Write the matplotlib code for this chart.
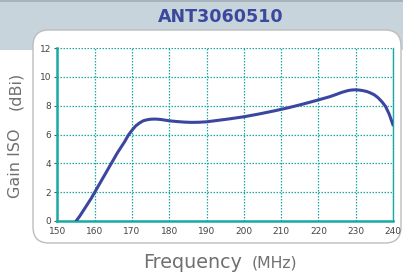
import matplotlib
matplotlib.use('Agg')
import matplotlib.pyplot as plt
from matplotlib.patches import FancyBboxPatch, Rectangle

plt.rcParams['font.family'] = ['DejaVu Sans']

# data
freq = [155, 156, 157, 158, 159, 160, 161, 162, 163, 164, 165, 166, 167, 168, 169,
        170, 171, 172, 173, 174, 175, 176, 177, 178, 179, 180, 182, 184, 186, 188,
        190, 193, 196, 200, 204, 208, 212, 216, 220, 223, 225, 226, 227, 228, 229,
        230, 231, 232, 233, 234, 235, 236, 237, 238, 239, 240]
gain = [0.0, 0.35, 0.75, 1.15, 1.55, 2.0, 2.45, 2.9, 3.35, 3.8, 4.25, 4.7, 5.1, 5.5, 5.95,
        6.3, 6.6, 6.8, 6.95, 7.02, 7.06, 7.07, 7.06, 7.03, 6.99, 6.95, 6.9, 6.86, 6.84, 6.85,
        6.88, 6.98, 7.08, 7.23, 7.42, 7.63, 7.86, 8.12, 8.4, 8.62, 8.8, 8.9, 8.98, 9.05, 9.09,
        9.1, 9.08, 9.04, 8.98, 8.88, 8.75, 8.55, 8.28, 7.95, 7.4, 6.66]
x_ticks = [150, 160, 170, 180, 190, 200, 210, 220, 230, 240]
y_ticks = [0, 2, 4, 6, 8, 10, 12]
title = 'ANT3060510'

teal = '#19aaa5'
W, H = 403, 272

fig = plt.figure(figsize=(W / 100, H / 100), dpi=100)

# background drawn in pixel coordinates
bg = fig.add_axes([0, 0, 1, 1])
bg.set_xlim(0, W)
bg.set_ylim(H, 0)
bg.axis('off')
bg.add_patch(Rectangle((0, 0), W, 50, color='#c8d4dc', lw=0))
bg.add_patch(Rectangle((0, 0), W, 1.5, color='#a8b4bc', lw=0))
bg.add_patch(FancyBboxPatch((33, 30), 368, 213, boxstyle='round,pad=0,rounding_size=16',
                            fc='white', ec='#bdbdbd', lw=1.0))
bg.text(221, 17.5, title, ha='center', va='center', fontsize=12.6, fontweight='bold',
        color='#3a499c')

ax = fig.add_axes([57.5 / W, 51 / H, 335.5 / W, 173 / H])
ax.plot(freq, gain, color='#3b46a0', lw=2.2, solid_capstyle='round', zorder=3)
ax.set_xlim(150, 240)
ax.set_ylim(0, 12)
ax.set_xticks(x_ticks)
ax.set_yticks(y_ticks)
ax.grid(True, color=teal, ls=(0, (1.2, 1.2)), lw=0.9)
ax.tick_params(axis='x', length=0, labelsize=6.5, labelcolor='#444444', pad=4)
ax.tick_params(axis='y', length=2.5, width=0.8, color='#555555', labelsize=6.5,
               labelcolor='#444444', pad=2)
for s in ['left', 'bottom']:
    ax.spines[s].set_color(teal)
    ax.spines[s].set_linewidth(1.8)
ax.spines['right'].set_color(teal)
ax.spines['right'].set_linewidth(1.0)
ax.spines['top'].set_visible(False)

grey = '#707070'
fig.text(16 / W, 1 - 198 / H, 'Gain ISO', rotation=90, ha='center', va='bottom',
         fontsize=11.5, color=grey)
fig.text(16 / W, 1 - 72 / H, '(dBi)', rotation=90, ha='center', va='top',
         fontsize=11.5, color=grey)
fig.text(143 / W, 1 - 268 / H, 'Frequency', ha='left', va='baseline',
         fontsize=13.8, color=grey)
fig.text(297 / W, 1 - 268 / H, '(MHz)', ha='right', va='baseline',
         fontsize=11.3, color=grey)

fig.savefig('out.png', dpi=100)
